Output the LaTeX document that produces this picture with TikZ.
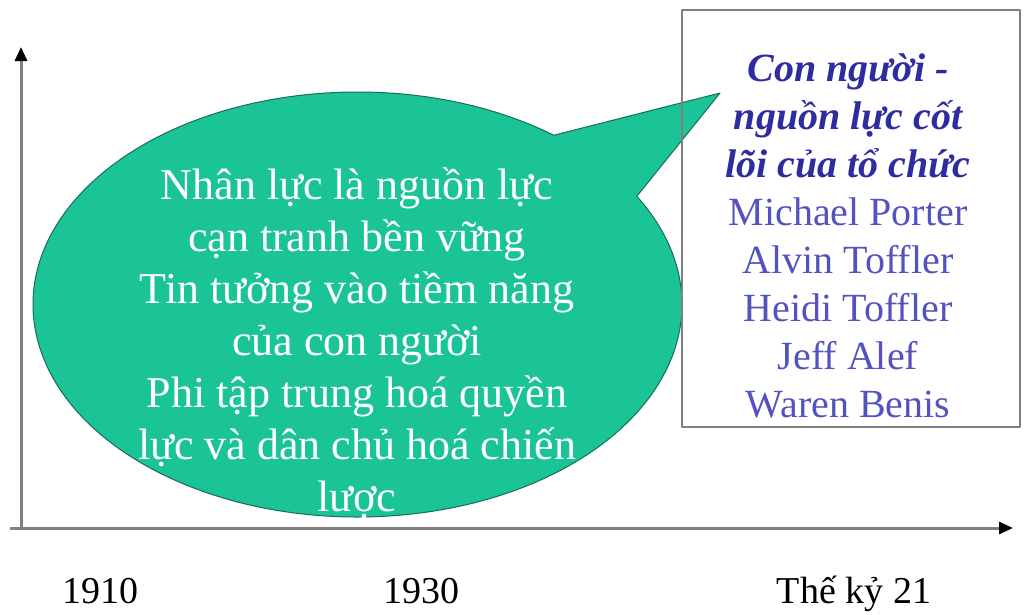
\documentclass[tikz,border=0pt]{standalone}
\usepackage{fontspec}
\setmainfont{Liberation Serif}
\usetikzlibrary{arrows.meta,positioning}
\definecolor{calloutGreen}{RGB}{26,196,150}
\definecolor{calloutEdge}{RGB}{22,110,86}
\definecolor{titleBlue}{RGB}{45,45,160}
\definecolor{nameBlue}{RGB}{82,82,192}
\definecolor{axisGray}{RGB}{128,128,128}
\tikzstyle{every node}=[text centered]
\tikzstyle{axisLine} = [draw=axisGray, line width=3pt, -{Triangle[length=14pt,width=12pt,black]}]
\tikzstyle{yearLabel} = [font=\fontsize{38}{46}\selectfont, anchor=base, inner sep=0pt]
\newcommand{\heading}[1]{\textcolor{titleBlue}{\bfseries\itshape #1}}
\newcommand{\person}[1]{\textcolor{nameBlue}{#1}}

\begin{document}
\begin{tikzpicture}[x=1pt,y=-1pt,line join=round]
    \useasboundingbox (0,0) rectangle (1025,614);
    % axes
    \coordinate (originNode) at (21,528);
    \coordinate (yTopNode) at (21,47);
    \coordinate (xStartNode) at (10,528);
    \coordinate (xEndNode) at (1013,528);
    \draw[axisLine] (originNode) -- (yTopNode);
    \draw[axisLine] (xStartNode) -- (xEndNode);

    \node[yearLabel] (yearA) at (100,603) {1910};
    \node[yearLabel] (yearB) at (421,603) {1930};
    \node[yearLabel] (yearC) at (854,603) {Thế kỷ 21};

    % speech bubble
    \coordinate (centreNode) at (357.5,304.5);
    \coordinate (tipNode) at (720,93);
    \draw[fill=calloutGreen, draw=calloutEdge, line width=1pt]
        ([shift={(-52.8:324.5 and 212.5)}]centreNode)
        arc[start angle=-52.8, end angle=-390.6, x radius=324.5, y radius=212.5]
        -- (tipNode) -- cycle;
    \node[text=white, align=center, font=\fontsize{44}{52}\selectfont] (ideaText) at (357,343)
        {Nhân lực là nguồn lực\\ cạn tranh bền vững\\ Tin tưởng vào tiềm năng\\ của con người\\
         Phi tập trung hoá quyền\\ lực và dân chủ hoá chiến\\ lược};

    % authors
    \node[draw=axisGray, line width=1.5pt, minimum width=338pt, minimum height=417pt, inner sep=0pt] (authorBox) at (851,218.5) {};
    \node[align=center, font=\fontsize{40}{48}\selectfont] (authorText) at (848,236)
        {\heading{Con người -}\\ \heading{nguồn lực cốt}\\ \heading{lõi của tổ chức}\\
         \person{Michael Porter}\\ \person{Alvin Toffler}\\ \person{Heidi Toffler}\\
         \person{Jeff Alef}\\ \person{Waren Benis}};

  \end{tikzpicture}
\end{document}
